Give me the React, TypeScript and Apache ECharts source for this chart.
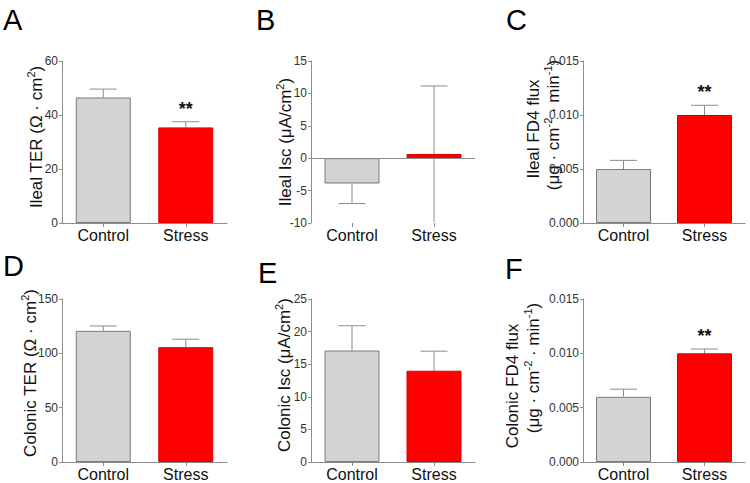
import React, { useEffect, useRef } from "react";
import * as echarts from "echarts";

// ---- Data ----
const categories = ["Control", "Stress"];

const ilealTER = [46.5, 35.4];
const ilealTERErr = [3.1, 2.1];
const ilealTERSig = ["", "**"];

const ilealIsc = [-3.9, 0.65];
const ilealIscErr = [3.1, 10.5];
const ilealIscLowErr = [0, 10.5];
const ilealIscSig = ["", ""];

const ilealFD4 = [0.005, 0.01];
const ilealFD4Err = [0.0008, 0.0009];
const ilealFD4Sig = ["", "**"];

const colonicTER = [120.7, 105.6];
const colonicTERErr = [4.5, 7.4];
const colonicTERSig = ["", ""];

const colonicIsc = [17.1, 14.0];
const colonicIscErr = [3.8, 3.0];
const colonicIscSig = ["", ""];

const colonicFD4 = [0.006, 0.01];
const colonicFD4Err = [0.0007, 0.0004];
const colonicFD4Sig = ["", "**"];

const noLowErr = [0, 0];

// axis ranges [min, max, interval, decimals]
const ilealTERAxis = [0, 60, 20, 0];
const ilealIscAxis = [-10, 15, 5, 0];
const ilealFD4Axis = [0, 0.015, 0.005, 3];
const colonicTERAxis = [0, 150, 50, 0];
const colonicIscAxis = [0, 25, 5, 0];
const colonicFD4Axis = [0, 0.015, 0.005, 3];

const panelLetters = ["A", "B", "C", "D", "E", "F"];

// ---- Layout / style ----
const FONT = "'Liberation Sans', Arial, Helvetica, sans-serif";
const GREY = "#8c8c8c";
const CONTROL_FILL = "#d3d3d3";
const STRESS_FILL = "#ff0000";

const grids = [
  { left: 62, top: 61, width: 165, height: 162 },
  { left: 311, top: 61, width: 164, height: 162 },
  { left: 583, top: 61, width: 162, height: 162 },
  { left: 62, top: 299, width: 165, height: 163 },
  { left: 311, top: 299, width: 164, height: 163 },
  { left: 583, top: 299, width: 162, height: 163 },
];

const panels = [
  { values: ilealTER, errs: ilealTERErr, low: noLowErr, sig: ilealTERSig, axis: ilealTERAxis },
  { values: ilealIsc, errs: ilealIscErr, low: ilealIscLowErr, sig: ilealIscSig, axis: ilealIscAxis },
  { values: ilealFD4, errs: ilealFD4Err, low: noLowErr, sig: ilealFD4Sig, axis: ilealFD4Axis },
  { values: colonicTER, errs: colonicTERErr, low: noLowErr, sig: colonicTERSig, axis: colonicTERAxis },
  { values: colonicIsc, errs: colonicIscErr, low: noLowErr, sig: colonicIscSig, axis: colonicIscAxis },
  { values: colonicFD4, errs: colonicFD4Err, low: noLowErr, sig: colonicFD4Sig, axis: colonicFD4Axis },
];

const letterPos = [
  [3, 5],
  [256, 5],
  [506, 5],
  [3, 251],
  [258, 258],
  [505, 254],
];

const titleRich = {
  n: { fontSize: 17, fontFamily: FONT, fill: "#111", lineHeight: 22 },
  s: { fontSize: 11, fontFamily: FONT, fill: "#111", verticalAlign: "top", lineHeight: 22 },
};

function yTitle(text: string, x: number, y: number) {
  return {
    type: "text",
    x,
    y,
    rotation: Math.PI / 2,
    silent: true,
    style: {
      text,
      rich: titleRich,
      align: "center",
      verticalAlign: "middle",
      fill: "#111",
      font: `17px ${FONT}`,
    },
  };
}

function buildOption() {
  const xAxis: any[] = [];
  const yAxis: any[] = [];
  const series: any[] = [];
  panels.forEach((p, i) => {
    const [min, max, interval, dec] = p.axis;
    const hasNeg = min < 0;
    xAxis.push({
      type: "category",
      gridIndex: i,
      data: categories,
      axisLine: { show: !hasNeg, onZero: false, lineStyle: { color: GREY, width: 1 } },
      axisTick: { show: true, alignWithLabel: true, length: 4, lineStyle: { color: GREY } },
      axisLabel: { color: "#111", fontSize: 16, fontFamily: FONT, margin: 4 },
      splitLine: { show: false },
    });
    yAxis.push({
      type: "value",
      gridIndex: i,
      min,
      max,
      interval,
      axisLine: { show: true, lineStyle: { color: GREY, width: 1 } },
      axisTick: { show: true, length: 3, lineStyle: { color: GREY } },
      axisLabel: {
        color: "#333",
        fontSize: 12,
        fontFamily: FONT,
        margin: 4,
        formatter: (v: number) => v.toFixed(dec),
      },
      splitLine: { show: false },
    });
    series.push({
      type: "bar",
      xAxisIndex: i,
      yAxisIndex: i,
      barWidth: 55,
      z: 3,
      data: p.values.map((v, k) => ({
        value: v,
        itemStyle: {
          color: k === 0 ? CONTROL_FILL : STRESS_FILL,
          borderColor: k === 0 ? "#7a7a7a" : "#d40000",
          borderWidth: 1,
        },
      })),
      markLine: hasNeg
        ? {
            silent: true,
            symbol: ["none", "none"],
            label: { show: false },
            lineStyle: { color: GREY, type: "solid", width: 1 },
            data: [{ yAxis: 0 }],
          }
        : undefined,
    });
    series.push({
      type: "custom",
      xAxisIndex: i,
      yAxisIndex: i,
      z: 2,
      data: p.values.map((v, k) => [k, v, p.errs[k], p.low[k]]),
      renderItem: (params: any, api: any) => {
        const k = api.value(0);
        const v = api.value(1);
        const e = api.value(2);
        const lo = api.value(3);
        const end = v >= 0 ? v + e : v - e;
        const p0 = api.coord([k, v]);
        const p1 = api.coord([k, end]);
        const half = 13.5;
        const children: any[] = [
          {
            type: "line",
            shape: { x1: p0[0], y1: p0[1], x2: p1[0], y2: p1[1] },
            style: { stroke: GREY, lineWidth: 1 },
          },
          {
            type: "line",
            shape: { x1: p1[0] - half, y1: p1[1], x2: p1[0] + half, y2: p1[1] },
            style: { stroke: GREY, lineWidth: 1 },
          },
        ];
        if (lo > 0) {
          const pl = api.coord([k, v - lo]);
          children.push({
            type: "line",
            shape: { x1: p0[0], y1: p0[1], x2: pl[0], y2: pl[1] },
            style: { stroke: GREY, lineWidth: 1 },
          });
        }
        const s = p.sig[params.dataIndex];
        if (s) {
          children.push({
            type: "text",
            x: p1[0],
            y: p1[1] - 13,
            style: {
              text: s,
              align: "center",
              verticalAlign: "middle",
              font: `bold 18px ${FONT}`,
              fill: "#111",
            },
          });
        }
        return { type: "group", children };
      },
    });
  });

  const graphic: any[] = [];
  panelLetters.forEach((L, i) => {
    graphic.push({
      type: "text",
      x: letterPos[i][0],
      y: letterPos[i][1],
      silent: true,
      style: { text: L, font: `29px ${FONT}`, fill: "#000", align: "left", verticalAlign: "top" },
    });
  });
  graphic.push(yTitle("{n|Ileal TER (Ω · cm}{s|2}{n|)}", 36, 137));
  graphic.push(yTitle("{n|Ileal Isc (μA/cm}{s|2}{n|)}", 285, 142));
  graphic.push(yTitle("{n|Ileal FD4 flux}", 533, 129));
  graphic.push(yTitle("{n|(μg · cm}{s|-2}{n| · min}{s|-1}{n|)}", 553, 125));
  graphic.push(yTitle("{n|Colonic TER (Ω · cm}{s|2}{n|)}", 30, 373));
  graphic.push(yTitle("{n|Colonic Isc (μA/cm}{s|2}{n|)}", 284, 375));
  graphic.push(yTitle("{n|Colonic FD4 flux}", 512, 386));
  graphic.push(yTitle("{n|(μg · cm}{s|-2}{n| · min}{s|-1}{n|)}", 533, 368));

  return {
    animation: false,
    backgroundColor: "#ffffff",
    textStyle: { fontFamily: FONT },
    grid: grids.map((g) => ({ ...g, containLabel: false })),
    xAxis,
    yAxis,
    series,
    graphic,
  };
}

export default function App() {
  const ref = useRef<HTMLDivElement>(null);
  useEffect(() => {
    document.body.style.margin = "0";
    if (!ref.current) return;
    const chart = echarts.init(ref.current, null, { renderer: "svg" });
    chart.setOption(buildOption() as any);
    return () => chart.dispose();
  }, []);
  return <div ref={ref} style={{ width: 750, height: 483, position: "absolute", left: 0, top: 0 }} />;
}
